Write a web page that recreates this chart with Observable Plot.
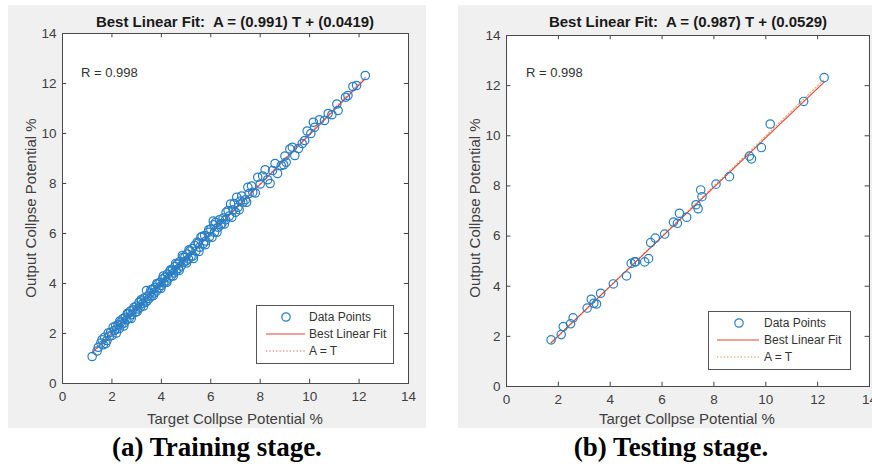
<!DOCTYPE html>
<html><head><meta charset="utf-8">
<script src="https://cdn.jsdelivr.net/npm/d3@7"></script>
<script src="https://cdn.jsdelivr.net/npm/@observablehq/plot@0.6"></script>
<style>
body{margin:0;background:#fff;width:872px;height:470px;position:relative;overflow:hidden;font-family:Arial,"Liberation Sans",sans-serif;}
.panel{position:absolute;background:#f0f0f0;overflow:visible;}
.panel svg{position:absolute;left:0;top:0;}
.title{position:absolute;font-weight:bold;font-size:15px;color:#1a1a1a;white-space:pre;transform:translateX(-50%);line-height:15px;}
.xlab{position:absolute;font-size:15px;color:#404040;white-space:pre;transform:translateX(-50%);line-height:15px;}
.ylab{position:absolute;font-size:15px;color:#404040;white-space:pre;transform:translate(-50%,-50%) rotate(-90deg);line-height:15px;}
.rtxt{position:absolute;font-size:13px;color:#333;white-space:pre;line-height:13px;}
.cap{position:absolute;font-family:"Liberation Serif","Times New Roman",serif;font-weight:bold;font-size:27px;color:#000;white-space:pre;transform:translateX(-50%);line-height:27px;}
.legend{position:absolute;background:#fff;border:1px solid #555;}
.legend .row{position:absolute;left:0;height:16px;}
.legend .row span{position:absolute;font-size:12px;color:#333;white-space:pre;line-height:16px;top:0;}
.legend .row svg{position:absolute;top:0;left:0;}
</style>
</head><body>
<div id="root"></div>
<script>
const axisTicks = [0, 2, 4, 6, 8, 10, 12, 14];
const titles = ["Best Linear Fit:  A = (0.991) T + (0.0419)", "Best Linear Fit:  A = (0.987) T + (0.0529)"];
const rLabels = ["R = 0.998", "R = 0.998"];
const xLabel = "Target Collpse Potential %";
const yLabel = "Output Collpse Potential %";
const captions = ["(a) Training stage.", "(b) Testing stage."];
const legendLabels = ["Data Points", "Best Linear Fit", "A = T"];
const slopes = [0.991, 0.987];
const intercepts = [0.0419, 0.0529];

const trainT = [1.20,1.40,1.45,1.55,1.65,1.70,1.80,1.85,1.90,1.95,2.00,2.10,2.15,2.20,2.25,2.30,2.35,2.40,2.45,2.50,2.55,2.60,2.65,2.70,2.75,2.80,2.85,2.95,3.00,3.05,3.10,3.15,3.20,3.25,3.30,3.35,3.40,3.45,3.50,3.55,3.60,3.65,3.70,3.75,3.80,3.85,3.90,3.95,4.00,4.05,4.10,4.15,4.20,4.25,4.30,4.35,4.40,4.45,4.50,4.55,4.60,4.65,4.70,4.75,4.80,4.85,4.90,4.95,5.00,5.05,5.10,5.15,5.20,5.25,5.30,5.35,5.40,5.50,5.55,5.60,5.70,5.75,5.80,5.90,5.95,6.00,6.10,6.15,6.20,6.30,6.40,6.45,6.50,6.60,6.70,6.75,6.80,6.90,7.00,7.05,7.10,7.20,7.30,7.40,7.50,7.55,7.70,7.90,8.00,8.20,8.40,8.50,8.70,8.85,9.00,9.05,9.20,9.40,9.70,9.80,9.90,10.05,10.15,10.20,10.60,10.75,11.10,11.15,11.45,11.55,11.75,11.90,12.25,
  1.60,1.75,2.05,2.18,2.32,2.48,2.62,2.78,2.90,3.02,3.18,3.28,3.42,3.58,3.68,3.82,3.98,4.08,4.22,4.38,4.48,4.58,4.72,4.88,5.02,5.12,5.28,5.45,5.52,5.65,5.78,5.92,6.05,6.12,6.25,6.35,6.55,6.62,6.85,6.95,7.15,7.25,7.45,7.65,7.80,8.10,8.30,8.60,8.95,9.30,9.55,10.40,10.90];
const trainA = [1.08,1.30,1.45,1.62,1.55,1.85,1.72,2.02,1.90,2.05,1.92,2.12,2.30,2.18,2.35,2.20,2.45,2.38,2.60,2.42,2.65,2.55,2.78,2.62,2.90,2.75,2.95,2.85,3.10,2.98,3.25,3.05,3.30,3.20,3.42,3.25,3.72,3.50,3.40,3.62,3.50,3.78,3.62,3.85,3.70,3.98,3.82,4.05,3.92,4.18,4.02,4.25,4.10,4.38,4.22,4.50,4.30,4.55,4.42,4.68,4.50,4.78,4.60,4.88,4.70,5.12,4.85,5.05,4.90,5.18,4.98,5.30,5.08,5.40,5.00,5.52,5.30,5.62,5.45,5.85,5.60,5.92,5.70,6.05,5.88,6.18,6.50,6.05,6.45,6.25,6.35,6.40,6.62,6.55,6.92,6.70,7.18,6.95,6.85,7.45,7.05,7.30,7.25,7.35,7.85,7.60,7.65,8.25,7.98,8.55,8.00,8.52,8.40,8.72,9.10,8.85,9.38,9.12,9.60,9.72,10.10,10.00,10.45,10.25,10.52,10.80,11.18,10.92,11.45,11.52,11.88,11.92,12.32,
  1.75,1.60,2.25,2.02,2.50,2.30,2.80,2.60,3.05,2.88,3.35,3.10,3.30,3.75,3.52,4.00,3.80,4.30,4.05,4.55,4.30,4.80,4.52,5.05,4.82,5.35,5.10,5.65,5.28,5.88,5.55,6.15,5.85,6.35,6.05,6.55,6.38,6.85,6.65,7.20,6.95,7.50,7.25,7.90,7.62,8.30,8.15,8.80,8.75,9.45,9.40,10.55,10.75];

const testT = [1.72,2.11,2.19,2.47,2.57,3.11,3.27,3.37,3.47,3.63,4.12,4.63,4.81,4.94,4.98,5.33,5.48,5.56,5.74,6.10,6.44,6.59,6.67,6.95,7.31,7.39,7.49,7.54,8.08,8.60,9.37,9.45,9.83,10.17,11.46,12.25];
const testA = [1.86,2.07,2.39,2.50,2.74,3.13,3.48,3.32,3.29,3.72,4.09,4.41,4.91,4.97,4.97,4.97,5.10,5.74,5.92,6.08,6.56,6.51,6.91,6.75,7.25,7.09,7.84,7.57,8.07,8.37,9.19,9.08,9.53,10.47,11.37,12.32];

const dotColor = "#2a7fc4";
const fitColor = "#e8403a";
const identColors = ["#f08a8a", "#e2b27a"];

function makePlot(cfg) {
  const pts = cfg.T.map((t, i) => ({t, a: cfg.A[i]}));
  const tMin = d3.min(cfg.T), tMax = d3.max(cfg.T);
  const fit = [tMin, tMax].map(t => ({t, a: cfg.slope * t + cfg.intercept}));
  const ident = [tMin, tMax].map(t => ({t, a: t}));
  const tl = 0.17;
  return Plot.plot({
    width: cfg.w, height: cfg.h,
    marginLeft: cfg.ml, marginRight: cfg.mr, marginTop: cfg.mt, marginBottom: cfg.mb,
    style: {background: "transparent", fontFamily: "Arial, 'Liberation Sans', sans-serif", fontSize: "13.5px", color: "#404040", overflow: "visible"},
    x: {domain: [0, 14], ticks: axisTicks, tickSize: 0, tickPadding: 8, label: null},
    y: {domain: [0, 14], ticks: axisTicks, tickSize: 0, tickPadding: 6, label: null},
    marks: [
      Plot.frame({fill: "white", stroke: "none"}),
      Plot.line(ident, {x: "t", y: "a", stroke: cfg.identColor, strokeWidth: 1.3, strokeDasharray: "1.2,2.2"}),
      Plot.line(fit, {x: "t", y: "a", stroke: fitColor, strokeWidth: 1.1}),
      Plot.dot(pts, {x: "t", y: "a", r: 4.2, stroke: dotColor, strokeWidth: 1.2, fill: "none"}),
      Plot.ruleX(axisTicks, {x: d => d, y1: 0, y2: tl, stroke: "#444"}),
      Plot.ruleX(axisTicks, {x: d => d, y1: 14 - tl, y2: 14, stroke: "#444"}),
      Plot.ruleY(axisTicks, {y: d => d, x1: 0, x2: tl, stroke: "#444"}),
      Plot.ruleY(axisTicks, {y: d => d, x1: 14 - tl, x2: 14, stroke: "#444"}),
      Plot.frame({stroke: "#4a4a4a"})
    ]
  });
}

function el(cls, text, css) {
  const d = document.createElement("div");
  d.className = cls;
  if (text != null) d.textContent = text;
  Object.assign(d.style, css);
  return d;
}

function legend(x, y, w, h, identColor, rows) {
  const box = el("legend", null, {left: x + "px", top: y + "px", width: w + "px", height: h + "px"});
  legendLabels.forEach((lab, i) => {
    const row = el("row", null, {top: (rows.top + i * 17 - 8) + "px", width: w + "px"});
    const ns = "http://www.w3.org/2000/svg";
    const s = document.createElementNS(ns, "svg");
    s.setAttribute("width", w); s.setAttribute("height", 16);
    if (i === 0) {
      const c = document.createElementNS(ns, "circle");
      c.setAttribute("cx", rows.cx); c.setAttribute("cy", 8); c.setAttribute("r", 4.2);
      c.setAttribute("fill", "none"); c.setAttribute("stroke", dotColor); c.setAttribute("stroke-width", 1.2);
      s.appendChild(c);
    } else {
      const l = document.createElementNS(ns, "line");
      l.setAttribute("x1", rows.l1); l.setAttribute("x2", rows.l2); l.setAttribute("y1", 8); l.setAttribute("y2", 8);
      l.setAttribute("stroke", i === 1 ? fitColor : identColor);
      l.setAttribute("stroke-width", i === 1 ? 1.2 : 1.4);
      if (i === 2) l.setAttribute("stroke-dasharray", "1.2,2.2");
      s.appendChild(l);
    }
    row.appendChild(s);
    const sp = document.createElement("span");
    sp.textContent = lab; sp.style.left = rows.tx + "px";
    row.appendChild(sp);
    box.appendChild(row);
  });
  return box;
}

const root = document.getElementById("root");
const panels = [
  {left: 8, top: 5, w: 418, h: 423, ml: 54, mr: 18, mt: 28, mb: 45, T: trainT, A: trainA, i: 0,
   titleX: 235, ylabX: 30, xlabX: 235, rX: 81, capX: 217,
   leg: [256, 305, 136, 57, {top: 11, cx: 29, l1: 9, l2: 48, tx: 52}]},
  {left: 458, top: 5, w: 414, h: 423, ml: 48, mr: 3, mt: 30, mb: 42, T: testT, A: testA, i: 1,
   titleX: 688, ylabX: 474, xlabX: 687, rX: 526, capX: 671,
   leg: [708, 311, 141, 57, {top: 11, cx: 30, l1: 8, l2: 50, tx: 55}]}
];

panels.forEach(p => {
  const div = el("panel", null, {left: p.left + "px", top: p.top + "px", width: p.w + "px", height: p.h + "px"});
  div.appendChild(makePlot({w: p.w, h: p.h, ml: p.ml, mr: p.mr, mt: p.mt, mb: p.mb, T: p.T, A: p.A,
    slope: slopes[p.i], intercept: intercepts[p.i], identColor: identColors[p.i]}));
  root.appendChild(div);
  root.appendChild(el("title", titles[p.i], {left: p.titleX + "px", top: "14px"}));
  root.appendChild(el("xlab", xLabel, {left: p.xlabX + "px", top: "411px"}));
  root.appendChild(el("ylab", yLabel, {left: p.ylabX + "px", top: "208px"}));
  root.appendChild(el("rtxt", rLabels[p.i], {left: p.rX + "px", top: "66px"}));
  root.appendChild(el("cap", captions[p.i], {left: p.capX + "px", top: "434px"}));
  const L = p.leg;
  root.appendChild(legend(L[0], L[1], L[2], L[3], identColors[p.i], L[4]));
});
</script>
</body></html>
